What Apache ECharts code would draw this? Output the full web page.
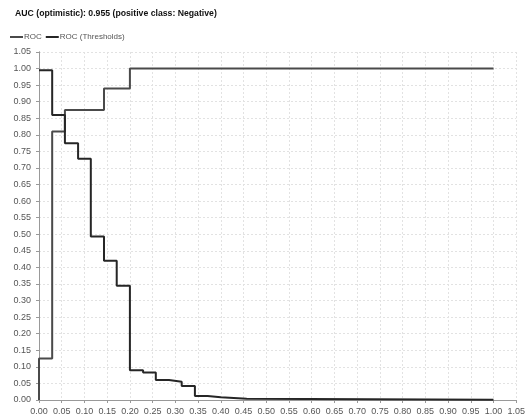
<!DOCTYPE html>
<html>
<head>
<meta charset="utf-8">
<script src="https://cdn.jsdelivr.net/npm/echarts@6/dist/echarts.min.js"></script>
<style>html,body{margin:0;padding:0;background:#fff;}#c{width:528px;height:418px;}</style>
</head>
<body>
<div id="c"></div>
<script>
const titleText = 'AUC (optimistic): 0.955 (positive class: Negative)';
const seriesNames = ['ROC', 'ROC (Thresholds)'];
const rocFpr = [0, 0, 0.029, 0.057, 0.143, 0.2, 1.0];
const rocTpr = [0, 0.125, 0.81, 0.875, 0.94, 1.0, 1.0];
const thrFpr = [0, 0.029, 0.057, 0.086, 0.114, 0.143, 0.171, 0.2, 0.229, 0.257, 0.286, 0.314, 0.343, 0.371, 0.4, 0.457, 1.0];
const thrVal = [0.995, 0.86, 0.775, 0.728, 0.493, 0.42, 0.345, 0.09, 0.083, 0.06, 0.055, 0.042, 0.012, 0.008, 0.004, 0.001, 0.001];
const axisMin = 0, axisMax = 1.05, axisStep = 0.05;

const zip = (xs, ys) => xs.map((x, i) => [x, ys[i]]);
const font = 'Arial, "Liberation Sans", sans-serif';
const chart = echarts.init(document.getElementById('c'), null, {renderer: 'canvas'});
const labelStyle = {color: '#555', fontSize: 9, fontFamily: font, formatter: v => v.toFixed(2)};
const gridLine = {show: true, lineStyle: {color: '#e2e2e2', type: [2, 2], width: 1}};
chart.setOption({
  animation: false,
  backgroundColor: '#fff',
  title: {text: titleText, left: 10, top: 4, textStyle: {fontSize: 8.7, fontWeight: 'bold', color: '#111', fontFamily: font}},
  legend: {
    left: 5, top: 28, itemWidth: 13, itemHeight: 2, itemGap: 4, icon: 'rect',
    textStyle: {fontSize: 8, color: '#555', fontFamily: font, padding: [0, 0, 0, -4]},
    data: seriesNames
  },
  grid: {left: 39, right: 8, top: 52, bottom: 18, containLabel: false},
  xAxis: [{
    type: 'value', min: axisMin, max: axisMax, interval: axisStep, offset: 3,
    axisLine: {show: true, lineStyle: {color: '#999', width: 1}},
    axisTick: {show: true, length: 3, lineStyle: {color: '#999'}},
    axisLabel: Object.assign({margin: 4, showMinLabel: true, showMaxLabel: true}, labelStyle),
    splitLine: gridLine
  }, {
    type: 'value', position: 'top', min: axisMin, max: axisMax,
    axisLine: {show: true, lineStyle: {color: '#999'}}, axisTick: {show: false}, axisLabel: {show: false}, splitLine: {show: false}
  }],
  yAxis: [{
    type: 'value', min: axisMin, max: axisMax, interval: axisStep, offset: 4,
    axisLine: {show: true, lineStyle: {color: '#999', width: 1}},
    axisTick: {show: true, length: 3, lineStyle: {color: '#999'}},
    axisLabel: Object.assign({margin: 4, showMinLabel: true, showMaxLabel: true}, labelStyle),
    splitLine: gridLine
  }, {
    type: 'value', position: 'right', min: axisMin, max: axisMax,
    axisLine: {show: true, lineStyle: {color: '#999'}}, axisTick: {show: false}, axisLabel: {show: false}, splitLine: {show: false}
  }],
  series: [{
    name: seriesNames[0], type: 'line', step: 'end', showSymbol: false, symbol: 'none',
    data: zip(rocFpr, rocTpr), color: '#4a4a4a', lineStyle: {width: 2, color: '#4a4a4a'}
  }, {
    name: seriesNames[1], type: 'line', step: 'end', showSymbol: false, symbol: 'none',
    data: zip(thrFpr, thrVal), color: '#262626', lineStyle: {width: 2, color: '#262626'}
  }]
});
</script>
</body>
</html>
